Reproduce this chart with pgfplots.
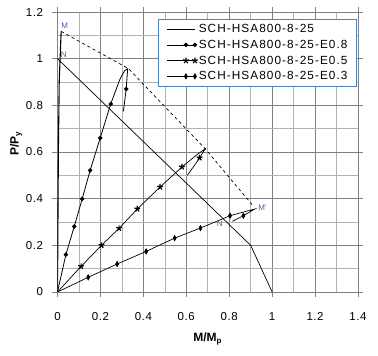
\documentclass[border=0pt]{standalone}
\usepackage{pgfplots}
\pgfplotsset{compat=1.18}
\usepackage{fontspec}
\setmainfont{Liberation Sans}
\newfontfamily\legfont[LetterSpace=5]{Liberation Sans}
\newfontfamily\legfontb[LetterSpace=9]{Liberation Sans}
\definecolor{majg}{RGB}{128,128,128}
\definecolor{ming}{RGB}{178,178,178}
\definecolor{lblue}{RGB}{79,129,189}
\definecolor{tblue}{RGB}{60,100,190}
\begin{document}
\begin{tikzpicture}[font=\fontsize{11.5}{13}\selectfont]
\useasboundingbox (-57.5pt,-64pt) rectangle (320.5pt,292pt);
\begin{axis}[
  at={(0,0)}, anchor=south west,
  scale only axis, width=300.5pt, height=280pt,
  xmin=0, xmax=1.4, ymin=0, ymax=1.2,
  xtick={0,0.2,0.4,0.6,0.8,1,1.2,1.4},
  ytick={0,0.2,0.4,0.6,0.8,1,1.2},
  minor tick num=1,
  grid=both,
  major grid style={draw=majg, line width=0.6pt},
  minor grid style={draw=ming, line width=0.6pt},
  axis line style={draw=majg, line width=0.6pt},
  tick align=outside,
  major tick length=5pt, minor tick length=0pt,
  tick style={draw=majg, line width=0.6pt},
  /pgf/number format/assume math mode=true,
  xticklabel style={/pgf/number format/fixed, /pgf/number format/precision=1, yshift=-12pt, font=\legfont\fontsize{11.5}{13}\selectfont},
  yticklabel style={/pgf/number format/fixed, /pgf/number format/precision=1, xshift=-6pt, font=\legfont\fontsize{11.5}{13}\selectfont},
  xlabel={\textbf{M/M\textsubscript{p}}},
  ylabel={\textbf{P/P\textsubscript{y}}},
  xlabel style={at={(axis description cs:0.5,-0.168)}, anchor=center, font=\fontsize{12}{14}\selectfont},
  ylabel style={at={(axis description cs:-0.138,0.53)}, anchor=center, rotate=0, font=\fontsize{12}{14}\selectfont},
  legend style={at={(0.996,0.975)}, anchor=north east, draw=lblue, line width=0.6pt,
    font=\legfontb\fontsize{11.8}{13}\selectfont, row sep=4pt, inner xsep=8pt, inner ysep=4pt,
    nodes={inner xsep=1pt, inner ysep=1pt},
    /tikz/every even column/.append style={column sep=13pt}},
  legend cell align=left,
  legend image code/.code={\draw[#1] plot coordinates {(0pt,0pt) (19pt,0pt) (28pt,0pt)};},
]
% SCH-HSA800-8-25 (concentric)
\addplot[black, line width=1.1pt, mark=none] coordinates {
 (0,0) (0.004,0.6) (0.008,0.9) (0.017,1.117)};
\addlegendentry{SCH-HSA800-8-25\hspace{5pt}}
% E0.8
\addplot[black, line width=0.8pt, mark=*, mark size=1.8pt, mark indices={2,3,4,5,6,7,11}] coordinates {
 (0,0) (0.039,0.16) (0.078,0.281) (0.115,0.399) (0.152,0.521) (0.199,0.66)
 (0.248,0.806) (0.29,0.91) (0.312,0.948) (0.327,0.957) (0.32,0.87) (0.307,0.774)};
\addlegendentry{SCH-HSA800-8-25-E0.8\hspace{5pt}}
% E0.5
\addplot[black, line width=0.7pt, mark=star, mark size=3pt, mark options={line width=1.2pt}, mark indices={2,3,4,5,6,7,10}] coordinates {
 (0,0) (0.11,0.11) (0.205,0.2) (0.287,0.273) (0.372,0.356) (0.478,0.45)
 (0.58,0.536) (0.645,0.585) (0.688,0.614) (0.662,0.575) (0.649,0.557) (0.605,0.5)};
\addlegendentry{SCH-HSA800-8-25-E0.5\hspace{5pt}}
% E0.3
\addplot[black, line width=0.7pt, mark=diamond*, mark size=2.6pt, mark options={xscale=0.75}, mark indices={2,3,4,5,6,7,9}] coordinates {
 (0,0) (0.143,0.063) (0.278,0.12) (0.413,0.174) (0.546,0.231) (0.666,0.274)
 (0.804,0.327) (0.92,0.356) (0.866,0.327) (0.815,0.303)};
\addlegendentry{SCH-HSA800-8-25-E0.3\hspace{5pt}}
% interaction curve
\addplot[black, line width=0.7pt, mark=none, forget plot] coordinates {
 (0,1) (0.9,0.2) (1,0)};
% dashed envelope
\addplot[black, line width=0.7pt, dashed, mark=none, forget plot] coordinates {
 (0.017,1.117) (0.331,0.957) (0.688,0.614) (0.916,0.364)};
\node[font=\fontsize{8}{9}\selectfont, text=tblue, anchor=south west, inner sep=1pt] at (axis cs:0.012,1.125) {M};
\node[font=\fontsize{8}{9}\selectfont, text=tblue, anchor=south west, inner sep=1pt] at (axis cs:0.01,1.0) {N};
\node[font=\fontsize{8}{9}\selectfont, text=tblue, anchor=west, inner sep=1pt] at (axis cs:0.93,0.36) {M'};
\node[font=\fontsize{8}{9}\selectfont, text=tblue, anchor=north east, inner sep=1pt] at (axis cs:0.775,0.31) {N};
\end{axis}
\end{tikzpicture}
\end{document}
